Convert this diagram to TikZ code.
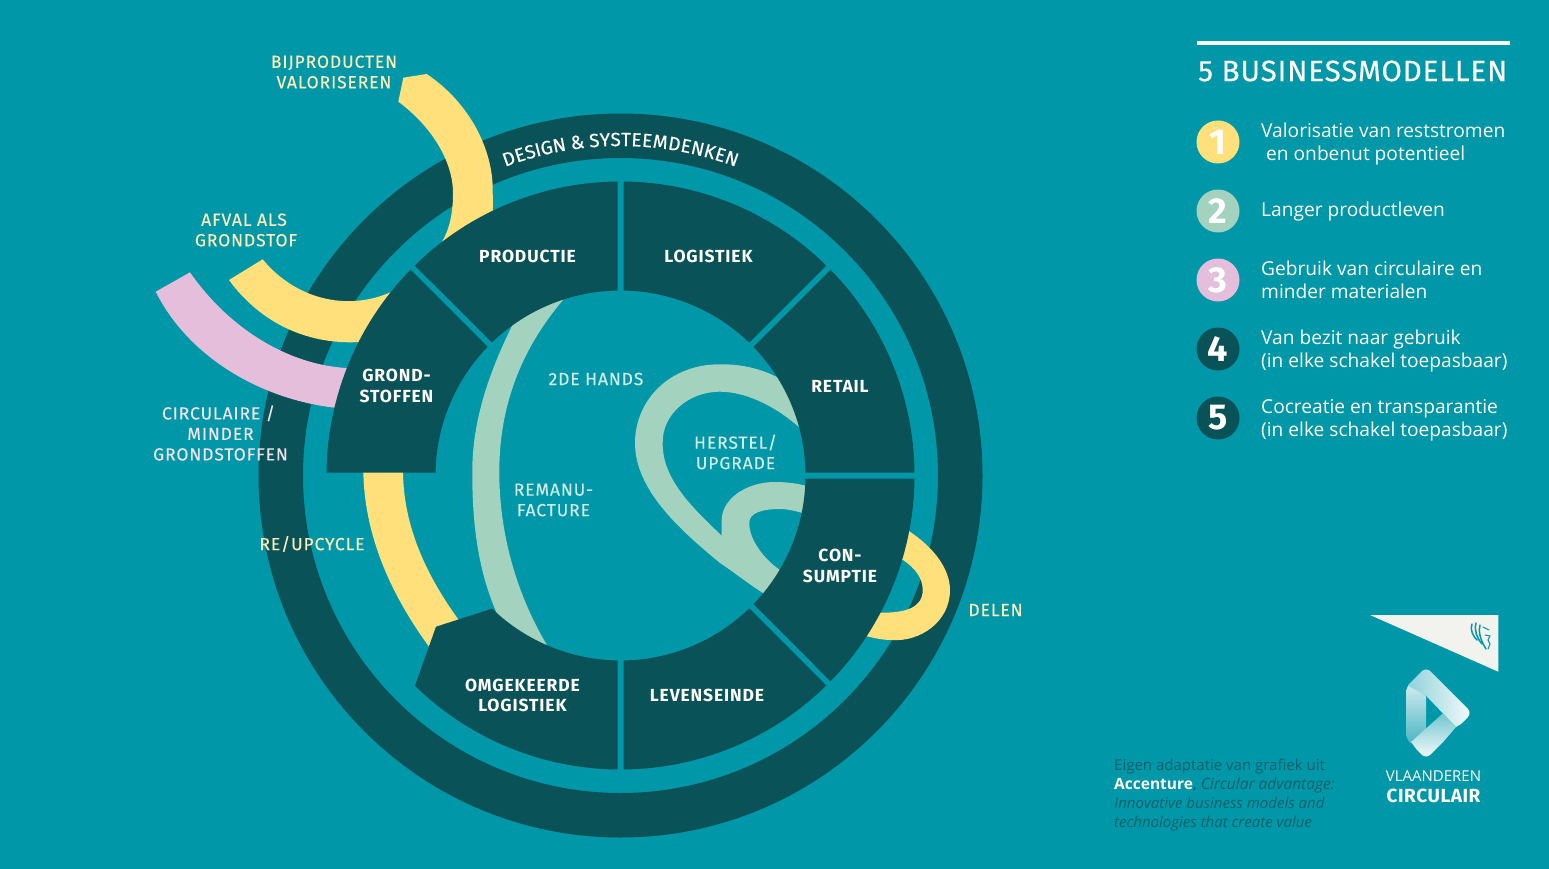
\documentclass[tikz,border=0pt]{standalone}
\usepackage{fontspec}
\setmainfont{Fira Sans}
\newfontfamily\legendfont{Open Sans}
\newfontfamily\labelfont{Fira Sans}[LetterSpace=5,FakeBold=0.25]
\newfontfamily\seglabelfont{Fira Sans}[LetterSpace=5]
\newfontfamily\titlefont{Fira Sans}[LetterSpace=3,FakeBold=0.3]
\newfontfamily\logofont{Fira Sans}[LetterSpace=3]
\newfontfamily\ringfont{Fira Sans}[FakeBold=0.3]
\definecolor{bgteal}{RGB}{0,151,169}
\definecolor{darkteal}{RGB}{9,82,87}
\definecolor{sunyellow}{RGB}{255,224,122}
\definecolor{softpink}{RGB}{229,190,219}
\definecolor{softmint}{RGB}{163,210,191}
\definecolor{paleyellow}{RGB}{252,238,180}
\definecolor{palepink}{RGB}{240,226,238}
\definecolor{palemint}{RGB}{208,235,228}
\definecolor{notecolor}{RGB}{10,98,108}
\definecolor{flagwhite}{RGB}{242,243,239}
\tikzset{
  ringpart/.style={fill=darkteal},
  yellowband/.style={fill=sunyellow},
  pinkband/.style={fill=softpink},
  mintband/.style={fill=softmint},
  ringletter/.style={text=white,inner sep=0pt,anchor=base,font=\ringfont\fontsize{19}{19}\selectfont},
  seglabel/.style={text=white,align=center,inner sep=0pt,font=\seglabelfont\fontsize{17.5}{20.5}\selectfont\bfseries},
  outlabel/.style={align=center,inner sep=0pt,font=\labelfont\fontsize{17.5}{20.5}\selectfont},
  legendtext/.style={text=white,align=left,anchor=west,inner sep=0pt,font=\legendfont\fontsize{19.15}{23}\selectfont},
  legendnum/.style={circle,minimum size=43pt,inner sep=0pt,text=white,font=\fontsize{36}{36}\selectfont\bfseries},
}
\newcommand{\ringseg}[2]{\fill[ringpart] ({#1+0.585}:294) arc[start angle={#1+0.585},end angle={#2-0.585},radius=294] -- ({#2-0.93}:185) arc[start angle={#2-0.93},end angle={#1+0.93},radius=185] -- cycle;}
\begin{document}
\begin{tikzpicture}[x=1pt,y=-1pt]
\useasboundingbox (0,0) rectangle (1549,869);
\fill[bgteal] (0,0) rectangle (1549,869);

% outer ring
\begin{scope}[shift={(620.5,475.5)},y=1pt]
\fill[ringpart,even odd rule] (0,0) circle[radius=362] (0,0) circle[radius=317.5];
\end{scope}

% bands beneath the segments
\fill[yellowband] (403.3,77.7) -- (426.7,74) .. controls (470,103) and (493,150) .. (492.7,190) -- (493,225) -- (435,255) -- (442,241.7) .. controls (452,225) and (453,205) .. (453,193) .. controls (453,160) and (430,125) .. (398.3,101.7) -- cycle;
\fill[yellowband] (229,280) .. controls (262,325) and (310,345) .. (360,342) -- (380,338) -- (400,288) -- (391.7,291.7) .. controls (350,311) and (297,301) .. (262.7,259.3) -- cycle;
\fill[pinkband] (155.7,291.7) .. controls (190,360) and (265,400) .. (335,407.7) -- (355,408) -- (355,368) -- (346.7,368) .. controls (290,365) and (230,330) .. (190,272.3) -- cycle;
\fill[yellowband] (363.3,470) .. controls (364,540) and (395,600) .. (429,646.7) -- (445,650) -- (465,630) -- (458,619) .. controls (430,580) and (403,530) .. (403,470) -- cycle;
\fill[yellowband] (895,525) -- (908.3,530.7) .. controls (935,548) and (950,570) .. (950,590) .. controls (950,622) and (920,642) .. (891.7,640) .. controls (882,640) and (874,638) .. (866,636) -- (860,625) -- (880,612.7) .. controls (905,613) and (922.7,608) .. (922.7,590) .. controls (922.7,578) and (915,568) .. (903,560) -- (885,550) -- cycle;
\fill[mintband] (505,315) -- (513.3,323.3) .. controls (490,370) and (472,420) .. (472.3,472) .. controls (472,530) and (480,575) .. (496.7,613) -- (500,630) -- (555,660) -- (547.3,645.7) .. controls (520,600) and (499.3,540) .. (499.3,472) .. controls (499.3,400) and (525,345) .. (563,300) -- (575,285) -- cycle;
\fill[mintband] (790,383) -- (779.3,378.3) .. controls (760,368) and (740,364) .. (720,364.3) .. controls (670,364) and (635,400) .. (635,443) .. controls (635,490) and (680,530) .. (720,563) .. controls (735,573) and (750,585) .. (763,593) -- (775,605) -- (795,580) -- (780,570) .. controls (765,560) and (749,540) .. (749.3,523) .. controls (749,513) and (762,509) .. (780,509) .. controls (788,509) and (795,511) .. (802.7,513) -- (820,515) -- (820,490) -- (805.7,485.7) .. controls (795,483) and (785,482) .. (775,482) .. controls (745,482) and (721.7,500) .. (721.7,520) -- (721.7,535.7) .. controls (695,510) and (662,480) .. (662.7,443) .. controls (662,415) and (688,391.7) .. (720,391.7) .. controls (750,392) and (780,410) .. (800,428) -- (815,440) -- cycle;

% segments
\begin{scope}[shift={(620.5,475.5)},y=1pt]
\ringseg{135}{180}
\ringseg{90}{135}
\ringseg{45}{90}
\ringseg{0}{45}
\ringseg{-45}{0}
\ringseg{-90}{-45}
\fill[ringpart] (225.65:294) arc[start angle=225.65,end angle=269.415,radius=294] -- (269.07:185) arc[start angle=269.07,end angle=226.03,radius=185] -- (-184.5,-151.2) -- cycle;
\foreach \ch/\p [count=\k] in {D/0.33,E/0.94,S/1.495,I/1.91,G/2.375,N/3.045,{\&}/4.0,S/4.885,Y/5.44,S/5.995,T/6.535,E/7.08,E/7.64,M/8.33,D/9.07,E/9.68,N/10.305,K/10.95,E/11.53,N/12.155}{
  \pgfmathsetmacro{\ang}{110.5-3.28*\p}
  \pgfmathsetmacro{\rot}{\ang-90}
  \node[ringletter,rotate=\rot] (ringchar\k) at (\ang:329.5) {\ch};
}
\end{scope}

% segment labels
\node[seglabel] (productie) at (527.5,256.5) {PRODUCTIE};
\node[seglabel] (logistiek) at (708.5,256.5) {LOGISTIEK};
\node[seglabel] (retail) at (840,386.5) {RETAIL};
\node[seglabel] (grondstoffen) at (396.5,386) {GROND-\\STOFFEN};
\node[seglabel] (consumptie) at (840,566) {CON-\\SUMPTIE};
\node[seglabel] (omgekeerde) at (522.5,695.5) {OMGEKEERDE\\LOGISTIEK};
\node[seglabel] (levenseinde) at (707,695.5) {LEVENSEINDE};

% outer labels
\node[outlabel,text=paleyellow] (bijproducten) at (334,72) {BIJPRODUCTEN\\VALORISEREN};
\node[outlabel,text=paleyellow] (afval) at (246,230) {AFVAL ALS\hspace*{4pt}\\GRONDSTOF};
\node[outlabel,text=palepink] (circulaire) at (220.5,433) {CIRCULAIRE /\hspace*{4pt}\\MINDER\\GRONDSTOFFEN};
\node[outlabel,text=paleyellow] (reupcycle) at (312,544) {RE/UPCYCLE};
\node[outlabel,text=paleyellow] (delen) at (995.5,610) {DELEN};
\node[outlabel,text=palemint] (tweedehands) at (596,379) {2DE HANDS};
\node[outlabel,text=palemint] (remanu) at (553.5,500) {REMANU-\\FACTURE};
\node[outlabel,text=palemint] (herstel) at (735.5,452) {HERSTEL/\\UPGRADE};

% legend
\fill[white] (1197,41) rectangle (1510,45.5);
\node[anchor=west,inner sep=0pt,text=white,font=\titlefont\fontsize{29.5}{30}\selectfont] (title) at (1198,71) {5 BUSINESSMODELLEN};
\node[legendnum,fill=sunyellow] (n1) at (1218,142) {1};
\node[legendnum,fill=softmint] (n2) at (1218,211) {2};
\node[legendnum,fill=softpink] (n3) at (1218,280) {3};
\node[legendnum,fill=darkteal] (n4) at (1218,349) {4};
\node[legendnum,fill=darkteal] (n5) at (1218,418) {5};
\node[legendtext] (t1) at (1261,144) {Valorisatie van reststromen\\\hspace*{5pt}en onbenut potentieel};
\node[legendtext] (t2) at (1261,212) {Langer productleven};
\node[legendtext] (t3) at (1261,280) {Gebruik van circulaire en\\minder materialen};
\node[legendtext] (t4) at (1261,351) {Van bezit naar gebruik\\(in elke schakel toepasbaar)};
\node[legendtext] (t5) at (1261,420) {Cocreatie en transparantie\\(in elke schakel toepasbaar)};

% source note
\node[anchor=north west,align=left,inner sep=0pt,text=notecolor,font=\legendfont\fontsize{15}{19}\selectfont] (note) at (1114,758.5) {Eigen adaptatie van grafiek uit\\{\fontsize{15.5}{19}\selectfont\textcolor{white}{\textbf{Accenture}}, \textit{Circular advantage:}}\\\textit{Innovative business models and}\\\textit{technologies that create value}};

% flag
\fill[flagwhite] (1370,615) -- (1498.3,615) -- (1498.3,671.7) -- cycle;
\begin{scope}[draw=bgteal,line width=1.5pt,line cap=round]
\draw (1472,624) .. controls (1470,631) and (1473,636) .. (1477,640);
\draw (1476,623) .. controls (1474,631) and (1477,638) .. (1482,644);
\draw (1480,625) .. controls (1478,633) and (1481,641) .. (1486,649);
\draw[line width=1pt] (1483,627) -- (1489,630);
\draw[line width=1pt] (1485,635) -- (1490,636) -- (1488,640) -- (1490,644) -- (1488,649);
\end{scope}

% logo
\begin{scope}
\clip[rounded corners=6pt] (1426,667) -- (1472,713) -- (1426,759) -- (1406,739) -- (1406,687) -- cycle;
\shade[top color=white!85!bgteal,bottom color=white!30!bgteal] (1405,680) -- (1426,696) -- (1426,732) -- (1411,743) -- (1405,743) -- cycle;
\shade[left color=white!55!bgteal,right color=white] (1405,684) -- (1426,665) -- (1480,713) -- (1456,727) -- (1426,695.7) -- cycle;
\shade[top color=white!45!bgteal,bottom color=white] (1411,742) -- (1443,713.3) -- (1456,727) -- (1426,762) -- cycle;
\end{scope}

\node[inner sep=0pt,text=white,font=\legendfont\fontsize{15}{15}\selectfont] (vlaanderen) at (1433.5,776) {VLAANDEREN};
\node[inner sep=0pt,text=white,font=\logofont\fontsize{19}{19}\selectfont\bfseries] (circulair) at (1433.5,796) {CIRCULAIR};
\end{tikzpicture}
\end{document}
